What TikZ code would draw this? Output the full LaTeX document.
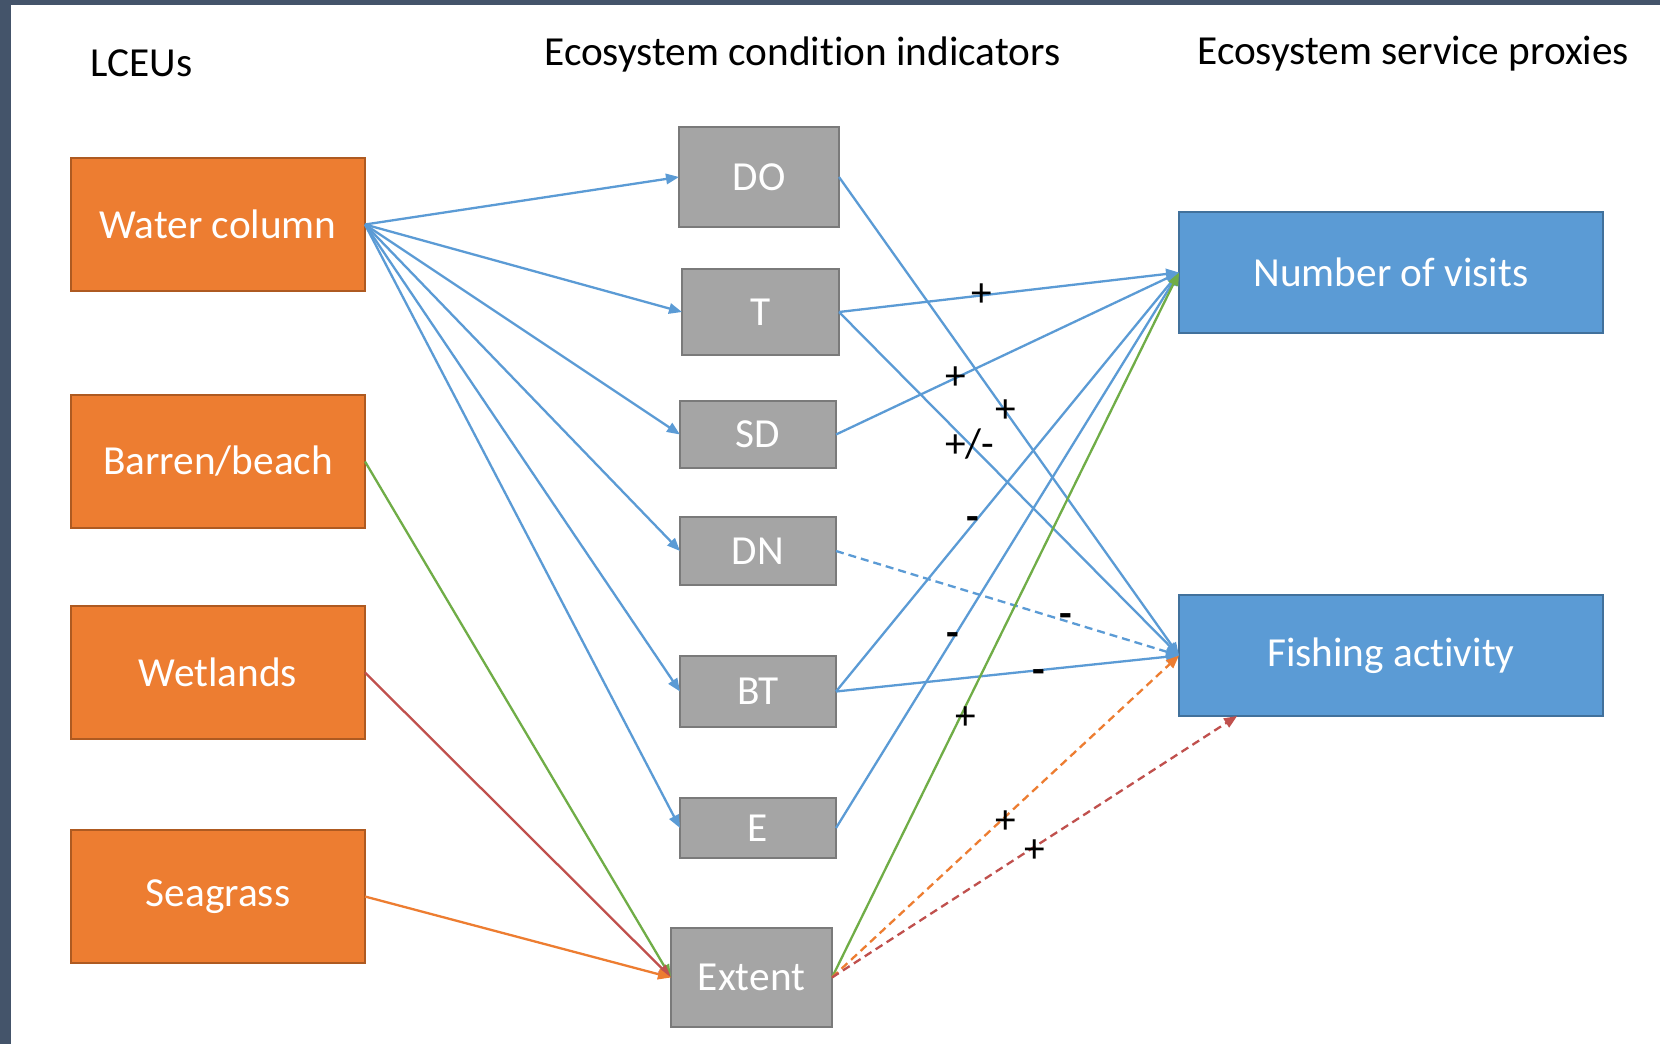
\documentclass[tikz,border=0pt]{standalone}
\usepackage{fontspec}
\setmainfont{Carlito}[Ligatures=NoCommon]
\usetikzlibrary{arrows.meta,calc}

\definecolor{framecol}{HTML}{44546A}
\definecolor{unitfill}{HTML}{ED7D31}
\definecolor{unitline}{HTML}{AE5A21}
\definecolor{indfill}{HTML}{A5A5A5}
\definecolor{indline}{HTML}{7A7A7A}
\definecolor{proxyfill}{HTML}{5B9BD5}
\definecolor{proxyline}{HTML}{41719C}
\definecolor{blueline}{HTML}{5B9BD5}
\definecolor{greenline}{HTML}{70AD47}
\definecolor{redline}{HTML}{C0504D}
\definecolor{orangeline}{HTML}{ED7D31}

\begin{document}
\begin{tikzpicture}[x=0.5pt, y=-0.5pt,
    every node/.style={font=\fontsize{20.65}{24}\selectfont},
    box/.style={draw, line width=0.8pt, inner sep=0pt, outer sep=0pt, text=white},
    unit/.style={box, fill=unitfill, draw=unitline, minimum width=147pt, minimum height=66.5pt},
    ind/.style={box, fill=indfill, draw=indline},
    proxy/.style={box, fill=proxyfill, draw=proxyline, minimum width=212pt, minimum height=60.5pt},
    link/.style={line width=1.15pt, -{Triangle[length=6.5pt,width=5.2pt]}},
    dashlink/.style={link, dash pattern=on 4pt off 2.5pt},
    sign/.style={inner sep=0pt, text=black}]
    \useasboundingbox (0,0) rectangle (1660,1044);
    \fill[white] (0,0) rectangle (1660,1044);
    \fill[framecol] (0,0) rectangle (1660,5);
    \fill[framecol] (0,0) rectangle (11,1044);

    % headers
    \node[anchor=base west, inner sep=0pt] (lceus) at (90,76) {LCEUs};
    \node[anchor=base west, inner sep=0pt] (cond) at (544,65) {Ecosystem condition indicators};
    \node[anchor=base west, inner sep=0pt] (serv) at (1197,64) {Ecosystem service proxies};

    % LCEUs
    \node[unit] (water) at (218,224.5) {Water column};
    \node[unit] (barren) at (218,461.5) {Barren/beach};
    \node[unit] (wetlands) at (218,672.5) {Wetlands};
    \node[unit] (seagrass) at (218,896.5) {Seagrass};

    % condition indicators
    \node[ind, minimum width=80pt, minimum height=50pt] (do) at (759,177) {DO};
    \node[ind, minimum width=78.5pt, minimum height=43pt] (t) at (760.5,312) {T};
    \node[ind, minimum width=78pt, minimum height=33.5pt] (sd) at (758,434.5) {SD};
    \node[ind, minimum width=78pt, minimum height=34pt] (dn) at (758,551) {DN};
    \node[ind, minimum width=78pt, minimum height=35.5pt] (bt) at (758,691.5) {BT};
    \node[ind, minimum width=78pt, minimum height=30pt] (e) at (758,828) {E};
    \node[ind, minimum width=80.5pt, minimum height=49.5pt] (extent) at (751.5,977.5) {Extent};

    % service proxies
    \node[proxy] (visits) at (1391,272.5) {Number of visits};
    \node[proxy] (fishing) at (1391,655.5) {Fishing activity};

    \foreach \ind in {do,t,sd,dn,bt,e}
        \draw[link, blueline] (water.east) -- (\ind.west);

    \draw[link, greenline] (barren.east) -- (extent.west);
    \draw[link, redline] (wetlands.east) -- (extent.west);
    \draw[link, orangeline] (seagrass.east) -- (extent.west);

    \draw[link, blueline] (do.east) -- node[sign, pos=0.49]{+} (fishing.west);
    \draw[link, blueline] (t.east) -- node[sign, pos=0.42]{+} (visits.west);
    \draw[link, blueline] (t.east) -- node[sign, pos=0.385]{+/-} (fishing.west);
    \draw[link, blueline] (sd.east) -- node[sign, pos=0.35]{+} (visits.west);
    \draw[dashlink, blueline] (dn.east) -- node[sign, pos=0.67]{\textbf{-}} (fishing.west);
    \draw[link, blueline] (bt.east) -- node[sign, pos=0.40]{\textbf{-}} (visits.west);
    \draw[link, blueline] (bt.east) -- node[sign, pos=0.59, yshift=-3pt]{\textbf{-}} (fishing.west);
    \draw[link, blueline] (e.east) -- node[sign, pos=0.34]{\textbf{-}} (visits.west);
    \draw[link, greenline] (extent.east) -- node[sign, pos=0.368, xshift=3pt]{+} (visits.west);
    \draw[dashlink, orangeline] (extent.east) -- node[sign, pos=0.5, yshift=-3pt]{+} (fishing.west);
    \draw[dashlink, redline] (extent.east) -- node[sign, pos=0.5, yshift=-2pt]{+}
        ($(fishing.south west)!0.137!(fishing.south east)$);
\end{tikzpicture}
\end{document}
